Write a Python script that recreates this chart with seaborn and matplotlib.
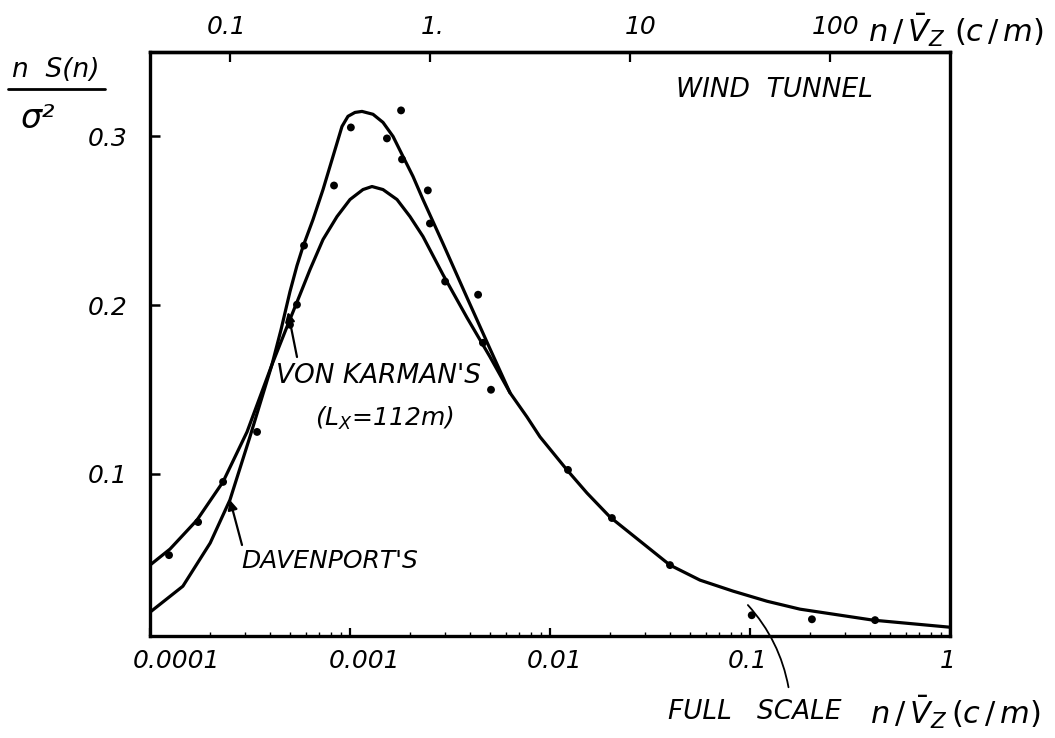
import numpy as np
import pandas as pd
import matplotlib
matplotlib.use("Agg")
import matplotlib.pyplot as plt
import matplotlib.transforms as mtransforms
from matplotlib.lines import Line2D
from matplotlib.ticker import NullLocator, FixedLocator
import seaborn as sns

# ---------------- data ----------------
# Von Karman's spectrum (L_x = 112 m), including the common tail
karman_x = [1.0e-4, 1.259e-4, 1.718e-4, 2.317e-4, 3.055e-4, 4.07e-4, 4.84e-4, 5.62e-4,
            6.31e-4, 7.33e-4, 8.61e-4, 1.0e-3, 1.161e-3, 1.288e-3, 1.462e-3, 1.718e-3,
            1.995e-3, 2.317e-3, 2.917e-3, 3.846e-3, 5.01e-3, 6.31e-3, 7.67e-3, 8.91e-3,
            1.216e-2, 1.531e-2, 1.995e-2, 3.981e-2, 5.623e-2, 8.22e-2, 0.1216, 0.1778,
            0.412, 0.684, 1.0]
karman_y = [0.0460, 0.0555, 0.0727, 0.0953, 0.1249, 0.1647, 0.1872, 0.2062,
            0.2211, 0.2389, 0.2525, 0.2626, 0.2685, 0.2703, 0.2685, 0.2626,
            0.2525, 0.2407, 0.2181, 0.1926, 0.1694, 0.1481, 0.1338, 0.1220,
            0.1024, 0.0887, 0.0745, 0.0460, 0.0371, 0.0306, 0.0246, 0.0199,
            0.0134, 0.0110, 0.0092]

# Davenport's spectrum (joins the Von Karman curve near n = 0.0063)
davenport_x = [1.0e-4, 1.46e-4, 2.0e-4, 2.51e-4, 3.16e-4, 4.07e-4, 4.52e-4, 5.01e-4,
               5.43e-4, 5.82e-4, 6.53e-4, 7.33e-4, 8.22e-4, 9.12e-4, 9.77e-4, 1.059e-3,
               1.148e-3, 1.303e-3, 1.462e-3, 1.641e-3, 1.841e-3, 2.065e-3, 2.317e-3,
               2.917e-3, 3.846e-3, 5.01e-3, 6.31e-3]
davenport_y = [0.0181, 0.0335, 0.0591, 0.0846, 0.1220, 0.1647, 0.1855, 0.2080,
               0.2234, 0.2347, 0.2507, 0.2685, 0.2881, 0.3059, 0.3119, 0.3142,
               0.3148, 0.3131, 0.3083, 0.3000, 0.2881, 0.2763, 0.2626,
               0.2365, 0.2045, 0.1742, 0.1481]

# wind tunnel measurements (dots)
tunnel_x = [1.245e-4, 1.74e-4, 2.32e-4, 3.43e-4, 5.01e-4, 5.43e-4, 5.89e-4, 8.32e-4,
            1.01e-3, 1.53e-3, 1.80e-3, 1.82e-3, 2.45e-3, 2.51e-3, 2.99e-3, 4.37e-3,
            4.62e-3, 5.07e-3, 1.23e-2, 2.04e-2, 3.98e-2, 0.102, 0.204, 0.422]
tunnel_y = [0.0519, 0.0715, 0.0953, 0.1249, 0.1884, 0.2003, 0.2353, 0.2709,
            0.3053, 0.2988, 0.3154, 0.2864, 0.268, 0.2484, 0.214, 0.2062,
            0.1777, 0.1499, 0.1024, 0.0739, 0.046, 0.0163, 0.0139, 0.0134]

bottom_ticks = [1e-4, 1e-3, 1e-2, 1e-1, 1.0]
bottom_labels = ["0.0001", "0.001", "0.01", "0.1", "1"]
top_ticks = [0.1, 1.0, 10.0, 100.0]
top_labels = ["0.1", "1.", "10", "100"]
y_ticks = [0.1, 0.2, 0.3]
y_labels = ["0.1", "0.2", "0.3"]
SCALE_FACTOR = 400.0   # wind tunnel / full scale

# ---------------- style ----------------
sns.set_style("white")
plt.rcParams['font.family'] = ['DejaVu Sans']
plt.rcParams['mathtext.fontset'] = 'dejavusans'
plt.rcParams['mathtext.default'] = 'it'
for key in ['text.color', 'axes.labelcolor', 'xtick.color', 'ytick.color',
            'axes.edgecolor']:
    plt.rcParams[key] = 'black'

W, H = 1055, 738
FS = 18
fig = plt.figure(figsize=(W / 100, H / 100), dpi=100)
fig.patch.set_facecolor('white')
ax = fig.add_axes([150 / W, 1 - 636 / H, 800 / W, (636 - 52) / H])
ax.set_xscale('log')

karman = pd.DataFrame({'x': karman_x, 'y': karman_y})
dav = pd.DataFrame({'x': davenport_x, 'y': davenport_y})
tun = pd.DataFrame({'x': tunnel_x, 'y': tunnel_y})

line_kw = dict(color='black', lw=2.3, sort=False, estimator=None)
sns.lineplot(data=karman, x='x', y='y', ax=ax, **line_kw)
sns.lineplot(data=dav, x='x', y='y', ax=ax, **line_kw)
for l in ax.get_lines():
    l.set_solid_joinstyle('round')
    l.set_solid_capstyle('round')
sns.scatterplot(data=tun, x='x', y='y', ax=ax, color='black', s=32,
                edgecolor='none', zorder=5)

ax.set_xlim(1e-4, 1.0)
ax.set_ylim(0.004, 0.350)
ax.set_xlabel('')
ax.set_ylabel('')

for sp in ax.spines.values():
    sp.set_linewidth(2.4)
    sp.set_color('black')

ax.set_xticks(bottom_ticks, labels=bottom_labels)
ax.xaxis.set_minor_locator(FixedLocator(
    [m * d for d in [1e-4, 1e-3, 1e-2, 1e-1] for m in range(2, 10)]))
ax.xaxis.set_minor_formatter(plt.NullFormatter())
ax.set_yticks(y_ticks, labels=y_labels)
ax.tick_params(axis='x', which='major', direction='in', length=6, width=1.6,
               pad=9, labelsize=FS, bottom=True, top=False, colors='black')
ax.tick_params(axis='x', which='minor', direction='in', length=3, width=1.0,
               bottom=True, top=False, colors='black')
ax.tick_params(axis='y', which='major', direction='in', length=7, width=1.8,
               pad=16, labelsize=FS, left=True, right=False, colors='black')


def shift(labels, offsets):
    for lbl, dx in zip(labels, offsets):
        lbl.set_fontstyle('italic')
        lbl.set_color('black')
        lbl.set_transform(lbl.get_transform() +
                          mtransforms.ScaledTranslation(dx / 100, 0, fig.dpi_scale_trans))


shift(ax.get_xticklabels(), [26, 15, 5, -2, -2])
for lbl in ax.get_yticklabels():
    lbl.set_fontstyle('italic')
    lbl.set_color('black')

secax = ax.secondary_xaxis('top', functions=(lambda x: x * SCALE_FACTOR,
                                             lambda x: x / SCALE_FACTOR))
secax.set_xticks(top_ticks, labels=top_labels)
secax.xaxis.set_minor_locator(NullLocator())
secax.tick_params(direction='in', length=7, width=1.6, pad=9, labelsize=FS,
                  colors='black')
secax.spines['top'].set_linewidth(2.4)
secax.spines['top'].set_color('black')
shift(secax.get_xticklabels(), [-3, 3, 11, 6])

# ---------------- annotations ----------------
def fx(px):
    return px / W


def fy(py):
    return 1 - py / H


txt = dict(fontsize=FS, fontstyle='italic', color='black')

fig.text(fx(56), fy(70), "n  S(n)", ha='center', va='center', fontsize=19,
         fontstyle='italic', color='black')
fig.add_artist(Line2D([fx(8), fx(105)], [fy(89), fy(89)], color='black', lw=2.0,
                      transform=fig.transFigure))
fig.text(fx(38), fy(118), "σ²", ha='center', va='center', fontsize=24,
         fontstyle='italic', color='black')

fig.text(fx(774), fy(90), "WIND  TUNNEL", ha='center', va='center', fontsize=19,
         fontstyle='italic', color='black')
fig.text(fx(868), fy(30), r"$n\,/\,\bar{V}_Z\ (c\,/\,m)$", ha='left', va='center',
         fontsize=22, color='black')
fig.text(fx(668), fy(712), "FULL   SCALE", ha='left', va='center', fontsize=19,
         fontstyle='italic', color='black')
fig.text(fx(870), fy(712), r"$n\,/\,\bar{V}_Z\,(c\,/\,m)$", ha='left', va='center',
         fontsize=22, color='black')

fig.text(fx(379), fy(376), "VON KARMAN'S", ha='center', va='center', fontsize=19,
         fontstyle='italic', color='black')
fig.text(fx(384), fy(418), r"(L$_X$=112m)", ha='center', va='center', **txt)
fig.text(fx(330), fy(561), "DAVENPORT'S", ha='center', va='center', **txt)

arrow = dict(arrowstyle='-|>', color='black', lw=1.6, mutation_scale=14,
             shrinkA=0, shrinkB=0)
ax.annotate('', xy=(fx(288), fy(312)), xycoords='figure fraction',
            xytext=(fx(297), fy(357)), textcoords='figure fraction',
            arrowprops=arrow)
ax.annotate('', xy=(fx(230), fy(500)), xycoords='figure fraction',
            xytext=(fx(242), fy(545)), textcoords='figure fraction',
            arrowprops=arrow)
ax.annotate('', xy=(fx(746), fy(603)), xycoords='figure fraction',
            xytext=(fx(789), fy(690)), textcoords='figure fraction',
            arrowprops=dict(arrowstyle='-', color='black', lw=1.3,
                            connectionstyle='arc3,rad=0.15'))

fig.savefig('out.png', dpi=100, facecolor='white')
